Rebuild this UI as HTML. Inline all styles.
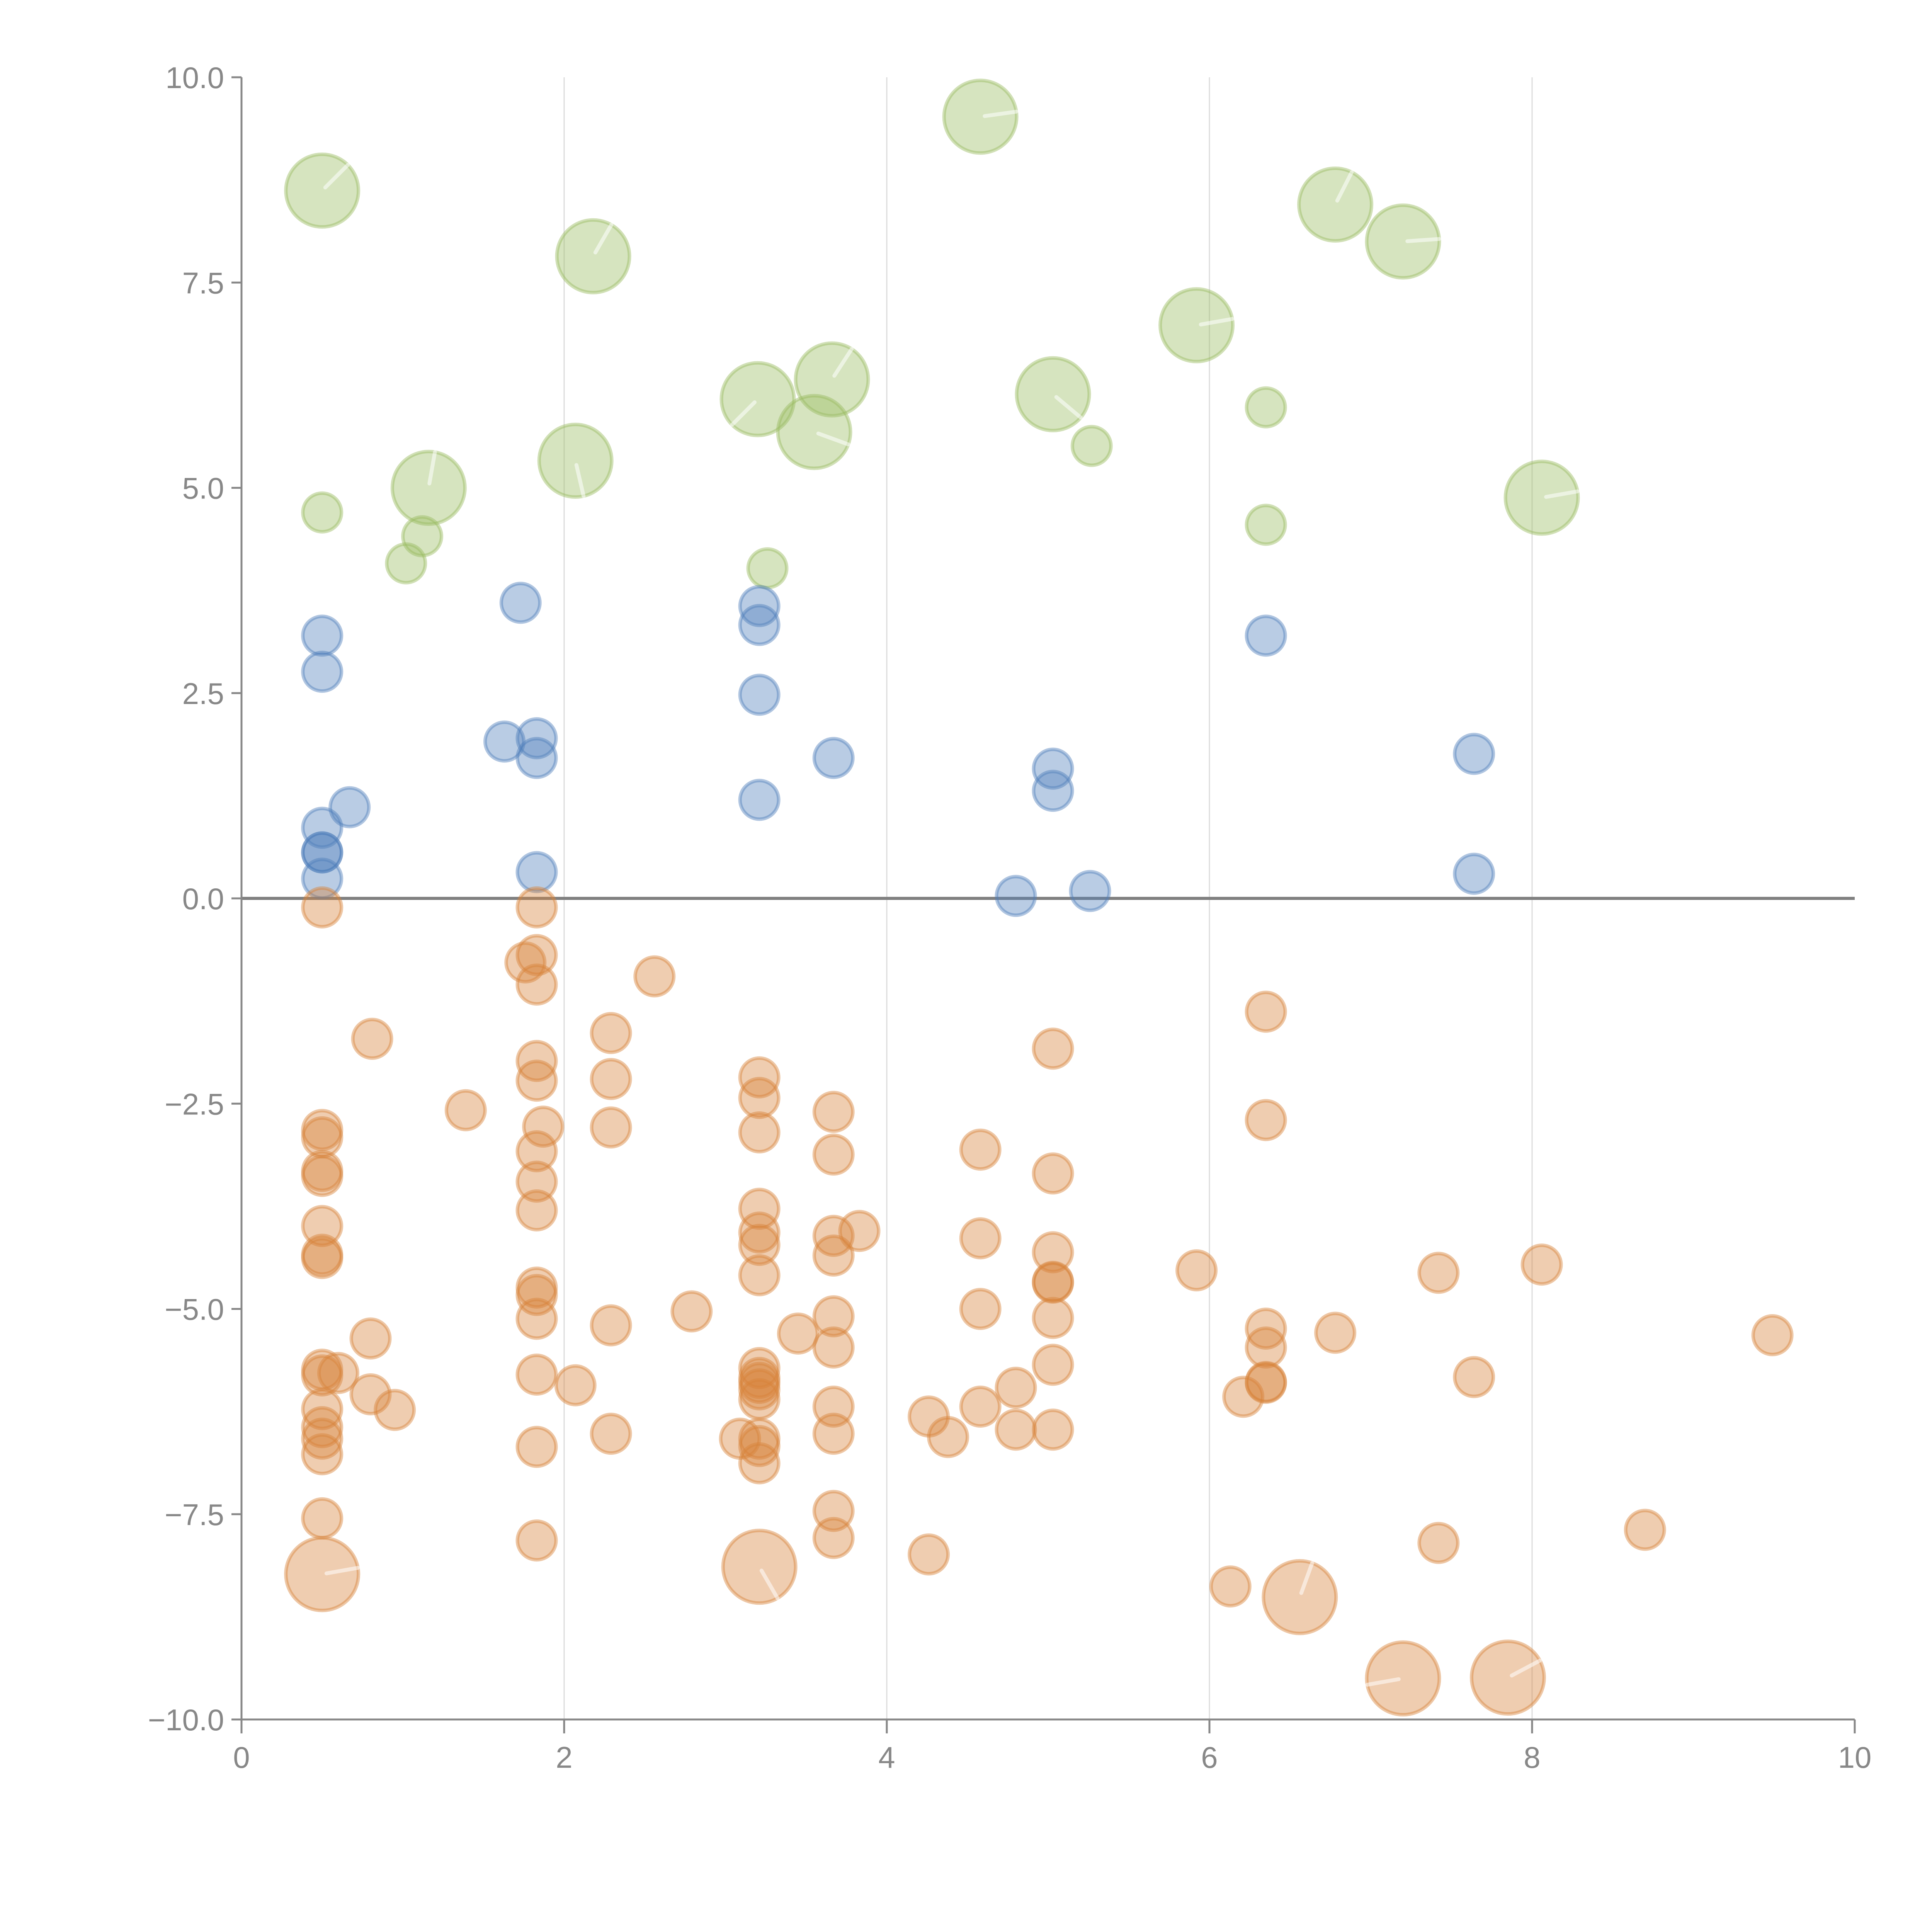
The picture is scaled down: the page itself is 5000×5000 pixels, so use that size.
<!DOCTYPE html>
<html><head><meta charset="utf-8"><style>
html,body{margin:0;padding:0;background:#fff;}
svg{display:block;font-family:"Liberation Sans",sans-serif;}
</style></head><body>
<svg id="chart" width="5000" height="5000" viewBox="0 0 5000 5000" xmlns="http://www.w3.org/2000/svg">
<g id="grid"></g>
<g id="zero"></g>
<g id="marks"></g>
<g id="axes"></g>
</svg>
<script>
const xTicks = [0,2,4,6,8,10];
const xTickLabels = ["0","2","4","6","8","10"];
const yTicks = [10,7.5,5,2.5,0,-2.5,-5,-7.5,-10];
const yTickLabels = ["10.0","7.5","5.0","2.5","0.0","\u22122.5","\u22125.0","\u22127.5","\u221210.0"];

const greenX = [0.5,2.18,4.58,6.78,7.2,5.92,3.2,3.66,3.55,5.03,5.27,6.35,6.35,8.06,1.16,2.07,0.5,1.02,1.12,3.26];
const greenY = [8.62,7.82,9.52,8.45,8.0,6.98,6.08,6.32,5.68,6.14,5.51,5.98,4.55,4.88,5.0,5.33,4.7,4.08,4.41,4.02];
const greenSize = [2,2,2,2,2,2,2,2,2,2,1,1,1,2,2,2,1,1,1,1];
const greenDir = [45,60,8,63,4,10,225,57,-20,-40,0,0,0,10,80,-77,0,0,0,0];

const blueX = [0.5,0.5,1.73,3.21,3.21,3.21,1.63,1.83,1.83,3.67,3.21,0.67,0.5,0.5,0.5,0.5,1.83,6.35,7.64,7.64,5.03,5.03,4.8,5.26];
const blueY = [3.2,2.76,3.6,3.56,3.33,2.48,1.91,1.95,1.71,1.71,1.2,1.11,0.86,0.56,0.56,0.24,0.32,3.2,1.76,0.3,1.58,1.31,0.03,0.09];

const orangeX = [0.5,0.5,0.5,0.5,0.5,0.5,0.5,0.5,0.5,0.5,0.5,0.5,0.5,0.5,0.5,0.5,
 0.6,0.81,0.80,0.80,0.95,1.39,
 1.83,1.83,1.76,1.83,1.83,1.83,1.87,1.83,1.83,1.83,1.83,1.83,1.83,1.83,1.83,1.83,
 2.07,2.29,2.29,2.29,2.29,2.29,2.56,2.79,
 3.21,3.21,3.21,3.21,3.21,3.21,3.21,3.21,3.21,3.21,3.21,3.21,3.21,3.21,3.21,3.21,
 3.09,3.45,
 3.67,3.67,3.67,3.67,3.67,3.67,3.67,3.67,3.67,3.67,3.83,
 4.26,4.26,4.38,4.58,4.58,4.58,4.58,4.8,4.8,
 5.03,5.03,5.03,5.03,5.03,5.03,5.03,5.03,
 5.92,6.13,6.21,6.56,
 6.35,6.35,6.35,6.35,6.35,6.35,
 6.78,7.2,7.42,7.42,7.64,7.85,8.06,8.7,9.49];
const orangeY = [-0.11,-2.82,-2.91,-3.32,-3.38,-3.99,-4.34,-4.38,-5.74,-5.81,-6.22,-6.44,-6.58,-6.77,-7.55,-8.23,
 -5.78,-1.71,-5.36,-6.04,-6.23,-2.58,
 -0.11,-0.69,-0.78,-1.05,-1.98,-2.22,-2.78,-3.08,-3.45,-3.8,-4.74,-4.83,-5.12,-5.8,-6.68,-7.82,
 -5.93,-1.64,-2.2,-2.79,-5.2,-6.52,-0.95,-5.03,
 -2.18,-2.43,-2.85,-3.78,-4.07,-4.22,-4.59,-5.72,-5.84,-5.9,-5.98,-6.1,-6.58,-6.67,-6.88,-8.14,
 -6.58,-5.3,
 -2.6,-3.12,-4.11,-4.35,-5.09,-5.47,-6.19,-6.52,-7.46,-7.79,-4.05,
 -6.31,-7.99,-6.56,-3.06,-4.14,-5.0,-6.19,-5.96,-6.47,
 -1.83,-3.35,-4.31,-4.67,-4.68,-5.11,-5.68,-6.47,
 -4.53,-8.38,-6.07,-8.51,
 -1.38,-2.7,-5.24,-5.47,-5.89,-5.9,
 -5.29,-9.5,-4.56,-7.85,-5.83,-9.49,-4.46,-7.69,-5.32];
const orangeLarge = [15,61,95,103,107];
const orangeLargeDir = [10,300,70,190,28];
const orangeSize = orangeX.map((v,i)=>orangeLarge.includes(i)?2:1);
const orangeDir = orangeX.map((v,i)=>{const k=orangeLarge.indexOf(i);return k>=0?orangeLargeDir[k]:0;});

const X0=625, X1=4800, Y0=4450, Y1=200;
function sx(v){return X0+(v-0)/(10-0)*(X1-X0);}
function sy(v){return Y0-(v+10)/20*(Y0-Y1);}
function rad(s){return s===2?94:50;}
const NS="http://www.w3.org/2000/svg";
function mk(tag,attrs,parent){const e=document.createElementNS(NS,tag);for(const k in attrs)e.setAttribute(k,attrs[k]);parent.appendChild(e);return e;}

const grid=document.getElementById('grid');
xTicks.forEach((t,i)=>{ if(t===0||t===10) return;
  const l=mk('line',{x1:sx(t),x2:sx(t),y1:Y1,y2:Y0,stroke:'#dcdcdc','stroke-width':3},grid);
  
  
});
const zero=document.getElementById('zero');
const zl=mk('line',{x1:X0,x2:X1,y1:sy(0),y2:sy(0),stroke:'#808080','stroke-width':8},zero);



const marks=document.getElementById('marks');
function series(xs,ys,sizes,dirs,fill,name){
  const g=mk('g',{},marks);
  
  
  xs.forEach((x,i)=>{
    const s=sizes?sizes[i]:1, r=rad(s), cx=sx(x), cy=sy(ys[i]);
    const c=mk('circle',{cx:cx,cy:cy,r:r,fill:fill,'fill-opacity':0.4,stroke:fill,'stroke-opacity':0.45,'stroke-width':9},g);
    
    
    if(s===2){
      const a=(dirs?dirs[i]:0)*Math.PI/180;
      const ln=mk('line',{x1:cx+Math.cos(a)*r*0.12,y1:cy-Math.sin(a)*r*0.12,x2:cx+Math.cos(a)*r,y2:cy-Math.sin(a)*r,stroke:'#fff','stroke-opacity':0.55,'stroke-width':10,'stroke-linecap':'round'},g);
      
      
    }
  });
}
series(greenX,greenY,greenSize,greenDir,'rgb(152,187,95)','green');
series(blueX,blueY,null,null,'rgb(80,127,187)','blue');
series(orangeX,orangeY,orangeSize,orangeDir,'rgb(215,130,57)','orange');

const axes=document.getElementById('axes');
const ya=mk('line',{x1:X0,x2:X0,y1:Y1,y2:Y0,stroke:'#888','stroke-width':5},axes);


const xa=mk('line',{x1:X0,x2:X1,y1:Y0,y2:Y0,stroke:'#888','stroke-width':5},axes);


yTicks.forEach((t,i)=>{
  const tk=mk('line',{x1:X0-26,x2:X0,y1:sy(t),y2:sy(t),stroke:'#888','stroke-width':5},axes);
  
  
  const tx=mk('text',{x:X0-45,y:sy(t)+28,'text-anchor':'end','font-size':78,fill:'#888'},axes);
  tx.textContent=yTickLabels[i];
  
  
});
xTicks.forEach((t,i)=>{
  const tk=mk('line',{x1:sx(t),x2:sx(t),y1:Y0,y2:Y0+36,stroke:'#888','stroke-width':5},axes);
  
  
  const tx=mk('text',{x:sx(t),y:Y0+125,'text-anchor':'middle','font-size':78,fill:'#888'},axes);
  tx.textContent=xTickLabels[i];
  
  
});
</script>
</body></html>
